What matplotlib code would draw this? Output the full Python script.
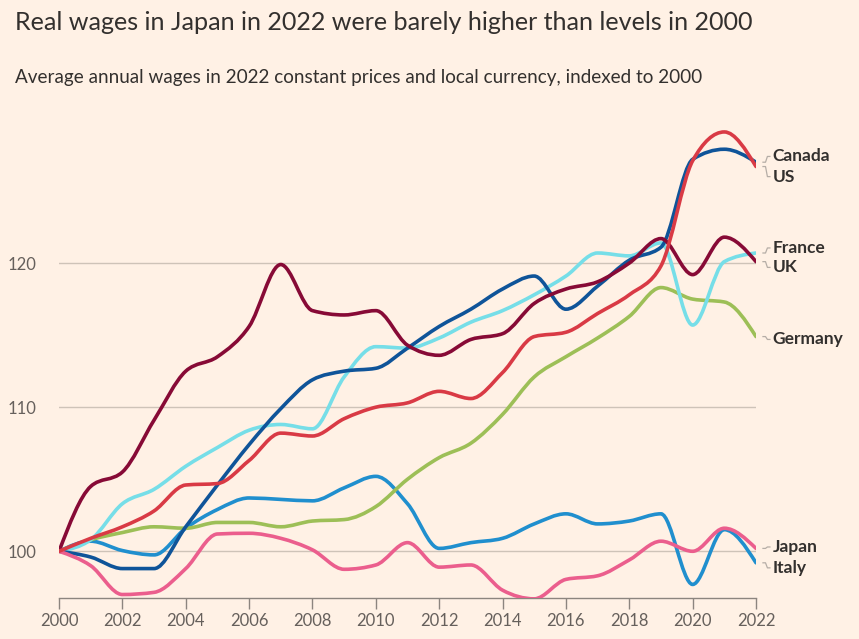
"""Real wages indexed to 2000, FT-style line chart with smoothed curves."""

import matplotlib
matplotlib.use("Agg")
import matplotlib.pyplot as plt
import numpy as np
from matplotlib.path import Path
from matplotlib.patches import PathPatch

BG = "#FFF1E5"
TEXT = "#33302E"
MUTED = "#66605C"

years = list(range(2000, 2023))

canada = [100, 99.6, 98.8, 98.8, 101.7, 104.6, 107.4, 109.9, 111.9, 112.5, 112.7,
          114.1, 115.6, 116.8, 118.2, 119.1, 116.8, 118.4, 120.2, 121.1, 127.2,
          127.9, 127.0]
us = [100, 100.9, 101.7, 102.8, 104.6, 104.7, 106.3, 108.2, 108.0, 109.2, 110.0,
      110.3, 111.1, 110.6, 112.4, 114.9, 115.2, 116.5, 117.8, 119.8, 127.1,
      129.1, 126.7]
france = [100, 100.8, 103.3, 104.3, 105.9, 107.2, 108.4, 108.8, 108.5, 112.1, 114.2,
          114.1, 114.8, 115.9, 116.7, 117.8, 119.1, 120.7, 120.5, 121.4, 115.7,
          120.1, 120.7]
uk = [100, 104.5, 105.5, 109.1, 112.5, 113.5, 115.6, 119.9, 116.7, 116.4, 116.7,
      114.3, 113.6, 114.7, 115.1, 117.2, 118.2, 118.7, 120.0, 121.7, 119.2,
      121.8, 120.1]
germany = [100, 100.8, 101.3, 101.7, 101.6, 102.0, 102.0, 101.7, 102.1, 102.2, 103.1,
           105.0, 106.5, 107.5, 109.5, 112.1, 113.5, 114.8, 116.3, 118.3, 117.5,
           117.3, 114.9]
japan = [100, 99.0, 97.0, 97.15, 98.8, 101.2, 101.25, 100.9, 100.1, 98.75, 99.05,
         100.6, 98.9, 99.05, 97.3, 96.7, 98.05, 98.3, 99.4, 100.7, 100.0,
         101.6, 100.2]
italy = [100, 100.7, 100.05, 99.75, 101.6, 102.9, 103.7, 103.6, 103.5, 104.4, 105.2,
         103.3, 100.2, 100.6, 100.9, 101.9, 102.6, 101.9, 102.1, 102.6, 97.7,
         101.5, 99.2]

# name, values, colour, label y position
series = [
    ("Italy", italy, "#208FCE", 98.85),
    ("Germany", germany, "#9DBF57", 114.7),
    ("France", france, "#76DEE8", 121.05),
    ("Canada", canada, "#0F5499", 127.4),
    ("UK", uk, "#870A36", 119.7),
    ("Japan", japan, "#EB5E8D", 100.3),
    ("US", us, "#D93A45", 126.0),
]


def monotone_path(x, y):
    """Bezier path through the points, same scheme as d3.curveMonotoneX."""
    x = np.asarray(x, float)
    y = np.asarray(y, float)
    n = len(x)
    h = np.diff(x)
    s = np.diff(y) / h
    t = np.zeros(n)
    for i in range(1, n - 1):
        p = (s[i - 1] * h[i] + s[i] * h[i - 1]) / (h[i - 1] + h[i])
        t[i] = (np.sign(s[i - 1]) + np.sign(s[i])) * min(abs(s[i - 1]), abs(s[i]), 0.5 * abs(p))
    t[0] = (3 * s[0] - t[1]) / 2
    t[-1] = (3 * s[-1] - t[-2]) / 2
    verts = [(x[0], y[0])]
    codes = [Path.MOVETO]
    for i in range(n - 1):
        dx = h[i] / 3
        verts += [(x[i] + dx, y[i] + dx * t[i]),
                  (x[i + 1] - dx, y[i + 1] - dx * t[i + 1]),
                  (x[i + 1], y[i + 1])]
        codes += [Path.CURVE4] * 3
    return Path(verts, codes)


plt.rcParams["font.family"] = ["Lato", "DejaVu Sans"]

fig = plt.figure(figsize=(8.59, 6.39), dpi=100, facecolor=BG)
ax = fig.add_axes([0.0687, 0.0642, 0.8114, 0.7496], facecolor=BG)
ax.set_xlim(2000, 2022)
ax.set_ylim(96.76, 130)

for v in [100, 110, 120]:
    ax.axhline(v, color="#CEC3B8", linewidth=1.0, zorder=1)

for name, vals, col, ly in series:
    patch = PathPatch(monotone_path(years, vals), fill=False, edgecolor=col,
                      linewidth=2.6, capstyle="round", joinstyle="round", zorder=3)
    ax.add_patch(patch)
    end = vals[-1]
    # small connector from line end to label
    ax.plot([2022.22, 2022.3, 2022.36, 2022.44], [end, end, ly, ly],
            color="#B5ADA6", linewidth=0.9, clip_on=False, zorder=2)
    ax.text(2022.53, ly, name, color=TEXT, fontsize=12.5, fontweight="bold",
            va="center", ha="left", clip_on=False)

for side in ["top", "right", "left"]:
    ax.spines[side].set_visible(False)
ax.spines["bottom"].set_color("#8C857F")
ax.spines["bottom"].set_linewidth(1.0)

ax.set_xticks(list(range(2000, 2023, 2)))
ax.set_yticks([100, 110, 120])
ax.tick_params(axis="x", colors="#8C857F", length=8, width=1.0, labelcolor=MUTED,
               labelsize=12, pad=3)
ax.tick_params(axis="y", length=0, labelcolor=MUTED, labelsize=12, pad=16)

fig.text(15 / 859, 1 - 30.5 / 639,
         "Real wages in Japan in 2022 were barely higher than levels in 2000",
         fontsize=18.1, color=TEXT, ha="left", va="baseline")
fig.text(15 / 859, 1 - 83 / 639,
         "Average annual wages in 2022 constant prices and local currency, indexed to 2000",
         fontsize=13.6, color=TEXT, ha="left", va="baseline")

fig.savefig("out.png", dpi=100, facecolor=BG)
